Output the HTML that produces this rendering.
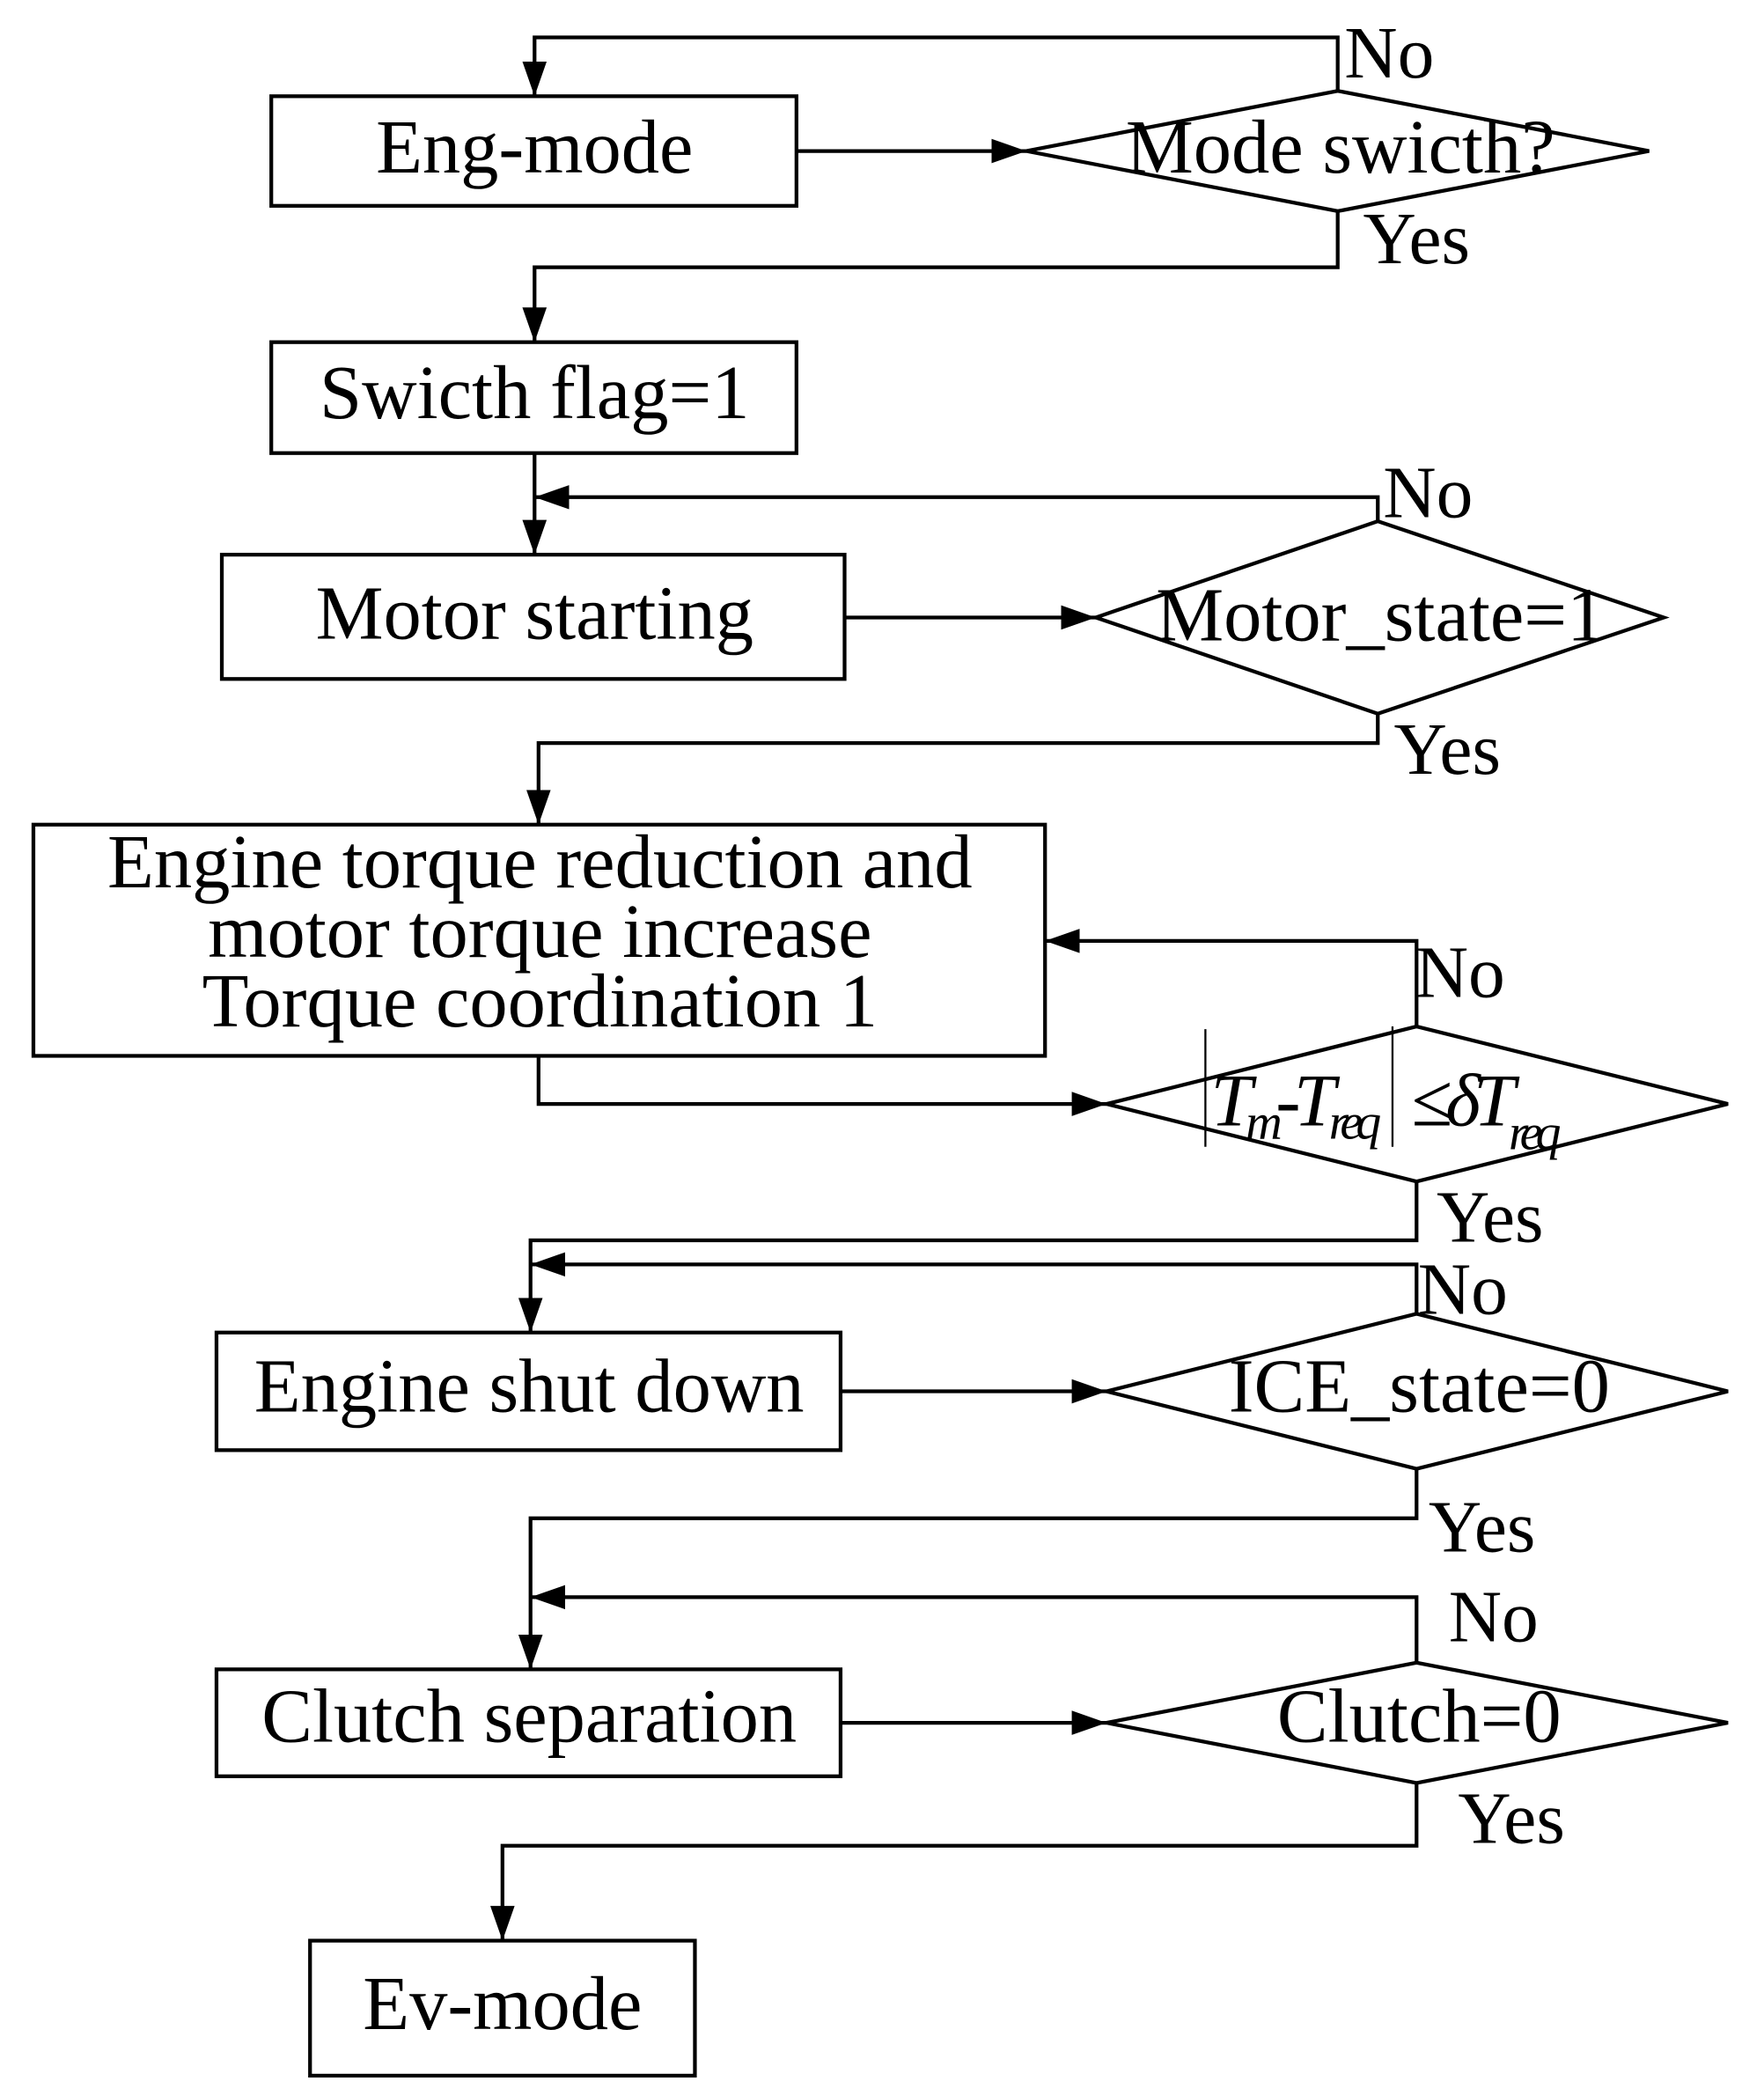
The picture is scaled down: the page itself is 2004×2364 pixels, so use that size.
<!DOCTYPE html>
<html><head><meta charset="utf-8"><style>
html,body{margin:0;padding:0;background:#fff;}
svg{display:block;}
text{font-family:"Liberation Serif",serif;fill:#000;}
</style></head><body>
<svg width="2004" height="2364" viewBox="0 0 1320 1557" preserveAspectRatio="none" xmlns="http://www.w3.org/2000/svg">
<defs>
<marker id="b" viewBox="0 0 10 10" refX="10" refY="5" markerWidth="26" markerHeight="26" markerUnits="userSpaceOnUse" orient="auto"><path d="M0,1.5L10,5L0,8.5z" fill="#000"/></marker></defs>
<g fill="none" stroke="#000" stroke-width="2.8">
<rect x="203" y="72" width="393" height="82"/>
<rect x="203" y="256" width="393" height="83"/>
<rect x="166" y="415" width="466" height="93"/>
<rect x="25" y="617" width="757" height="173"/>
<rect x="162" y="997" width="467" height="88"/>
<rect x="162" y="1249" width="467" height="80"/>
<rect x="232" y="1452" width="288" height="101"/>
<polygon points="768,113 1001,68 1234,113 1001,158"/>
<polygon points="820,462 1031,390 1245,462 1031,534"/>
<polygon points="828,826 1060,768 1293,826 1060,884"/>
<polygon points="828,1041 1060,983 1293,1041 1060,1099"/>
<polygon points="828,1289 1060,1244 1293,1289 1060,1334"/>
<polyline points="1001,68 1001,28 400,28 400,72" marker-end="url(#b)"/>
<line x1="596" y1="113" x2="768" y2="113" marker-end="url(#b)"/>
<polyline points="1001,158 1001,200 400,200 400,256" marker-end="url(#b)"/>
<line x1="400" y1="339" x2="400" y2="415" marker-end="url(#b)"/>
<polyline points="1031,390 1031,372 400,372" marker-end="url(#b)"/>
<line x1="632" y1="462" x2="820" y2="462" marker-end="url(#b)"/>
<polyline points="1031,534 1031,556 403,556 403,617" marker-end="url(#b)"/>
<polyline points="1060,768 1060,704 782,704" marker-end="url(#b)"/>
<polyline points="403,790 403,826 828,826" marker-end="url(#b)"/>
<polyline points="1060,884 1060,928 397,928 397,997" marker-end="url(#b)"/>
<polyline points="1060,983 1060,946 397,946" marker-end="url(#b)"/>
<line x1="629" y1="1041" x2="828" y2="1041" marker-end="url(#b)"/>
<polyline points="1060,1099 1060,1136 397,1136 397,1249" marker-end="url(#b)"/>
<polyline points="1060,1244 1060,1195 397,1195" marker-end="url(#b)"/>
<line x1="629" y1="1289" x2="828" y2="1289" marker-end="url(#b)"/>
<polyline points="1060,1334 1060,1381 376,1381 376,1452" marker-end="url(#b)"/>
<line x1="902" y1="770" x2="902" y2="858" stroke-width="1.5"/>
<line x1="1042" y1="768" x2="1042" y2="858" stroke-width="1.5"/>
</g>
<g font-size="57" text-anchor="middle">
<text x="400" y="129">Eng-mode</text>
<text x="400" y="313">Swicth flag=1</text>
<text x="400" y="478">Motor starting</text>
<text x="404" y="664">Engine torque reduction and</text>
<text x="404" y="716">motor torque increase</text>
<text x="404" y="768">Torque coordination 1</text>
<text x="396" y="1056">Engine shut down</text>
<text x="396" y="1303">Clutch separation</text>
<text x="376" y="1518">Ev-mode</text>
<text x="1003" y="129">Mode swicth?</text>
<text x="1033" y="479">Motor_state=1</text>
<text x="1062" y="1056">ICE_state=0</text>
<text x="1062" y="1303">Clutch=0</text>
</g>
<g font-size="55">
<text x="1006" y="58">No</text>
<text x="1020" y="197">Yes</text>
<text x="1035" y="387">No</text>
<text x="1043" y="579">Yes</text>
<text x="1059" y="746">No</text>
<text x="1075" y="929">Yes</text>
<text x="1061" y="983">No</text>
<text x="1069" y="1161">Yes</text>
<text x="1084" y="1228">No</text>
<text x="1091" y="1379">Yes</text>
</g>
<g font-size="56" font-style="italic" font-family="Liberation Sans">
<text x="906" y="842" letter-spacing="-5">T<tspan font-size="38" dy="10">m</tspan><tspan dy="-10">-T</tspan><tspan font-size="38" dy="10">req</tspan></text>
<text x="1056" y="842" letter-spacing="-5">≤δT<tspan font-size="38" dy="18">req</tspan></text>
</g>
</svg>
</body></html>
